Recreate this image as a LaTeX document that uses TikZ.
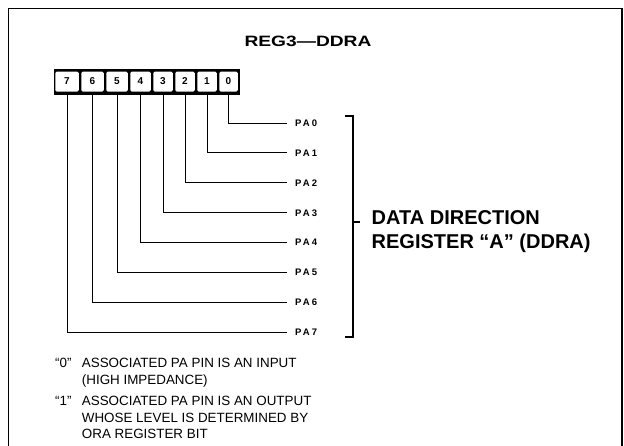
\documentclass[tikz,border=0pt]{standalone}
\usepackage{fontspec}
\setmainfont{Liberation Sans}
\usepackage{graphicx}
\begin{document}
\begin{tikzpicture}[x=1pt,y=-1pt,
  cell/.style={fill=white,rounded corners=1.5pt,inner sep=0pt,minimum height=20pt,
    font=\bfseries\fontsize{10}{12}\selectfont},
  palabel/.style={anchor=west,inner sep=0pt,
    font=\bfseries\fontsize{9.5}{11}\selectfont\addfontfeature{LetterSpace=22}},
  wire/.style={line width=1pt},
  note/.style={anchor=north west,inner sep=0pt,align=left,
    font=\fontsize{13.4}{16.5}\selectfont}]
\useasboundingbox (0,0) rectangle (624,445);
% frame
\draw[line width=1.8pt] (8.5,452) -- (8.5,8.5) -- (622,8.5) -- (622,452);
% title
\node[inner sep=0pt,font=\bfseries\fontsize{15}{18}\selectfont] (title) at (308,41.7)
  {\scalebox{1.28}[1]{REG3—DDRA}};
% register box
\node[fill=black,minimum width=186pt,minimum height=26pt,inner sep=0pt] (reg) at (146.5,81.5) {};
\foreach \b/\cx/\w in {7/67/23.5,6/92.5/22.5,5/117/21.5,4/140.5/20.5,3/163/19.5,2/185/19.5,1/207/19.5,0/228.5/18.5}
  \node[cell,minimum width=\w pt] (c\b) at (\cx,81.5) {\b};
% PA labels and wires
\foreach \b in {0,...,7}{
  \node[palabel] (pa\b) at (295,{123+29.93*\b}) {PA\b};
  \draw[wire] (c\b |- reg.south) |- ([xshift=-8pt]pa\b.west);
}
% bracket
\coordinate (bt) at (353,116);
\coordinate (bb) at (353,337);
\coordinate (bm) at (353,222);
\draw[line width=1.3pt] ([xshift=-8pt]bt) -- (bt) -- (bb) -- ([xshift=-8pt]bb);
\draw[line width=1.3pt] (bm) -- ([xshift=7pt]bm);
\node[anchor=north west,inner sep=0pt,align=left,font=\bfseries\fontsize{20}{23.7}\selectfont]
  (ddra) at (371.5,210.5) {DATA DIRECTION\\REGISTER “A” (DDRA)};
% notes
\node[note] (q0) at (55,358.2) {“0”};
\node[note] (t0) at (81.7,358.2) {ASSOCIATED PA PIN IS AN INPUT\\(HIGH IMPEDANCE)};
\node[note] (q1) at (55,396.2) {“1”};
\node[note] (t1) at (81.7,396.2) {ASSOCIATED PA PIN IS AN OUTPUT\\WHOSE LEVEL IS DETERMINED BY\\ORA REGISTER BIT};
\end{tikzpicture}
\end{document}
